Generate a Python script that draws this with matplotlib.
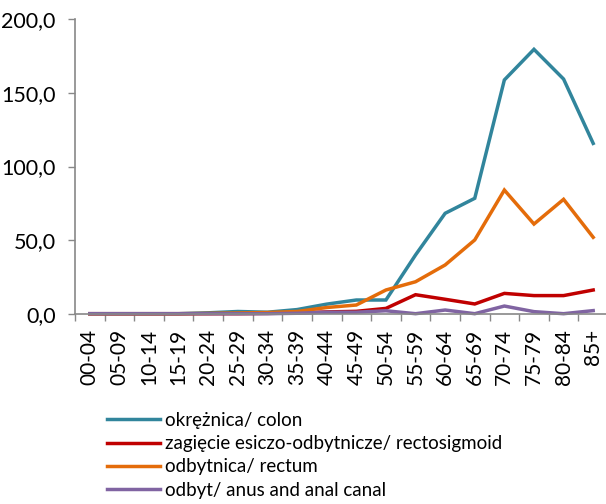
import matplotlib.pyplot as plt
from matplotlib.ticker import FuncFormatter, MultipleLocator

age_groups = ["00-04", "05-09", "10-14", "15-19", "20-24", "25-29", "30-34",
              "35-39", "40-44", "45-49", "50-54", "55-59", "60-64", "65-69",
              "70-74", "75-79", "80-84", "85+"]

colon = [0.0, 0.0, 0.0, 0.0, 0.6, 1.5, 1.0, 2.8, 6.5, 9.3, 9.3, 39.9,
         68.2, 78.4, 158.8, 179.6, 159.4, 115.7]
rectosigmoid = [0.0, 0.0, 0.0, 0.0, 0.0, 0.0, 0.2, 0.5, 1.2, 1.6, 3.6, 12.9,
                9.8, 6.6, 13.8, 12.3, 12.3, 16.1]
rectum = [0.0, 0.0, 0.0, 0.0, 0.2, 0.5, 0.8, 1.5, 4.2, 5.9, 16.1, 21.7,
          33.1, 50.1, 84.0, 60.9, 77.7, 51.9]
anus = [0.0, 0.0, 0.0, 0.0, 0.0, 0.0, 0.0, 0.3, 1.0, 1.0, 2.0, 0.0,
        2.5, 0.0, 5.2, 1.4, 0.0, 2.1]

series = [
    ("okrężnica/ colon", colon, "#31859C"),
    ("zagięcie esiczo-odbytnicze/ rectosigmoid", rectosigmoid, "#C00000"),
    ("odbytnica/ rectum", rectum, "#E46C0A"),
    ("odbyt/ anus and anal canal", anus, "#8064A2"),
]

plt.rcParams["font.family"] = ["Lato", "DejaVu Sans"]

fig = plt.figure(figsize=(6.06, 5.04), dpi=100)
ax = fig.add_axes([75 / 606, 1 - 313.7 / 504, 533 / 606, 294.4 / 504])

x = list(range(len(age_groups)))
for label, values, color in series:
    ax.plot(x, values, color=color, linewidth=2.5, label=label,
            solid_joinstyle="miter", clip_on=False)

ax.set_xlim(-0.5, len(age_groups) - 0.5)
ax.set_ylim(0, 200)
ax.yaxis.set_major_locator(MultipleLocator(50))
ax.yaxis.set_major_formatter(FuncFormatter(lambda v, p: f"{v:.1f}".replace(".", ",")))

ax.set_xticks([i - 0.5 for i in range(len(age_groups) + 1)])
ax.set_xticklabels([])
ax.set_xticks(x, minor=True)
ax.set_xticklabels(age_groups, minor=True, rotation=90, fontsize=15)
ax.tick_params(axis="x", which="minor", length=0, pad=11)
ax.tick_params(axis="x", which="major", length=5, color="#888888", width=1)
ax.tick_params(axis="y", length=5, color="#888888", width=1, labelsize=15.5, pad=9)

for side in ["top", "right"]:
    ax.spines[side].set_visible(False)
for side in ["left", "bottom"]:
    ax.spines[side].set_color("#888888")
    ax.spines[side].set_linewidth(1.2)

fig.legend(loc="upper left", bbox_to_anchor=(107 / 606, 1 - 412 / 504),
           frameon=False, fontsize=13.5, handlelength=2.8, handletextpad=0.27,
           labelspacing=0.33, borderaxespad=0, borderpad=0)

fig.savefig("out.png", dpi=100)
